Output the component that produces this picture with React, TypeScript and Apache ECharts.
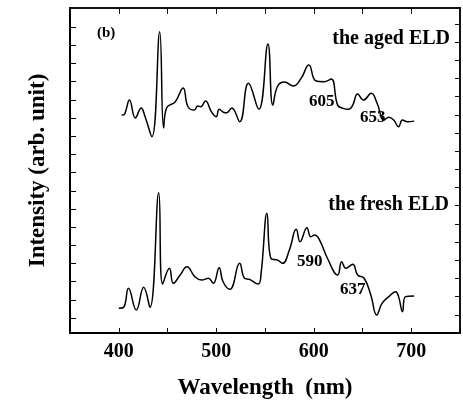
import React, { useEffect, useRef } from "react";
import * as echarts from "echarts";

// Wavelength (nm) / intensity (arb. unit)
const agedX = [403, 406, 411, 417, 423, 427, 434, 442, 446, 449, 458, 466, 471, 477.5, 481, 484, 489, 495, 500, 503, 509, 512, 516, 524, 533, 543.6, 553, 558, 563, 570, 579, 587, 595, 602, 611, 618, 624.5, 630, 636, 640, 645, 651, 659, 665, 672, 677, 682, 687, 691, 696, 703];
const agedY = [11.98, 12.04, 12.81, 11.82, 12.37, 11.89, 10.79, 16.56, 11.27, 12.37, 12.72, 13.47, 12.44, 12.26, 12.48, 12.44, 12.75, 12.17, 11.89, 12.3, 12.11, 12.15, 12.37, 11.62, 13.73, 12.3, 15.89, 12.53, 13.58, 13.8, 13.58, 14.0, 14.73, 13.87, 13.82, 13.96, 12.53, 12.35, 12.3, 12.53, 13.14, 12.81, 13.18, 12.63, 11.71, 11.86, 11.71, 11.34, 11.71, 11.62, 11.65];

const freshX = [400, 405, 410, 418, 425.5, 432, 441, 445, 452, 456, 463, 470, 478, 485, 492, 497, 503, 507, 514, 524, 529, 534, 543, 546, 552, 556, 563, 568, 575, 582, 586, 593, 597, 601, 606, 614, 624.5, 628.6, 633, 640, 645, 651.7, 658.5, 664.6, 670, 677, 684, 687, 691, 694, 703];
const freshY = [1.36, 1.41, 2.46, 1.26, 2.51, 1.41, 7.71, 2.69, 3.56, 2.73, 3.19, 3.64, 3.1, 2.91, 3.01, 2.73, 3.59, 2.82, 2.4, 3.83, 3.01, 2.95, 2.69, 3.28, 6.58, 4.11, 4.01, 3.83, 4.56, 5.7, 5.02, 5.79, 5.29, 5.39, 5.11, 4.11, 3.19, 3.92, 3.56, 3.78, 3.19, 3.01, 2.09, 0.99, 1.63, 2.0, 2.27, 2.0, 1.17, 2.0, 2.03];

const xMin = 350;
const xMax = 750;
const xInterval = 50;
const yMin = 0;
const yMax = 17.87;
const yTicks = [0.82, 1.82, 2.82, 3.82, 4.82, 5.82, 6.82, 7.82, 8.82, 9.82, 10.82, 11.82, 12.82, 13.82, 14.82, 15.82, 16.82];

const seriesNames = ["the aged ELD", "the fresh ELD"];
const peakLabels = ["605", "653", "590", "637"];
const panelLabel = "(b)";
const xName = "Wavelength  (nm)";
const yName = "Intensity (arb. unit)";

const FONT = "Liberation Serif";

export default function App() {
  const ref = useRef<HTMLDivElement>(null);
  useEffect(() => {
    if (!ref.current) return;
    const chart = echarts.init(ref.current, undefined, { renderer: "svg" });
    const pair = (xs: number[], ys: number[]) => xs.map((x, i) => [x, ys[i]]);
    const mkLine = (color: string) => ({ show: true, onZero: false, lineStyle: { color, width: 2 } });
    const ttl = (text: string, pos: Record<string, number>, size: number) => ({
      text,
      ...pos,
      padding: 0,
      textStyle: { color: "#000", fontFamily: FONT, fontWeight: "bold", fontSize: size },
    });
    chart.setOption({
      animation: false,
      title: [
        ttl(panelLabel, { left: 97, top: 24 }, 15),
        ttl(seriesNames[0], { right: 13, top: 27 }, 20),
        ttl(seriesNames[1], { right: 14, top: 193 }, 20),
        ttl(peakLabels[0], { left: 309, top: 92 }, 17),
        ttl(peakLabels[1], { left: 360, top: 108 }, 17),
        ttl(peakLabels[2], { left: 297, top: 252 }, 17),
        ttl(peakLabels[3], { left: 340, top: 280 }, 17),
      ],
      grid: { left: 70, right: 3, top: 8, bottom: 72, show: true, borderColor: "#111", borderWidth: 2 },
      xAxis: [
        {
          type: "value",
          min: xMin,
          max: xMax,
          interval: xInterval,
          axisLine: mkLine("#000"),
          axisTick: { show: true, inside: true, length: 5 },
          splitLine: { show: false },
          axisLabel: {
            color: "#000",
            fontFamily: FONT,
            fontWeight: "bold",
            fontSize: 20,
            margin: 7,
            formatter: (v: number) => (v % 100 === 0 && v > xMin && v < xMax ? String(v) : ""),
          },
          name: xName,
          nameLocation: "middle",
          nameGap: 42,
          nameTextStyle: { color: "#000", fontFamily: FONT, fontWeight: "bold", fontSize: 23 },
        },
        {
          type: "value",
          position: "top",
          min: xMin,
          max: xMax,
          interval: xInterval,
          axisLine: mkLine("#111"),
          axisTick: { show: true, inside: true, length: 6 },
          axisLabel: { show: false },
          splitLine: { show: false },
        },
      ],
      yAxis: [
        {
          type: "value",
          min: yMin,
          max: yMax,
          axisLine: mkLine("#000"),
          axisTick: { show: true, inside: true, length: 6, customValues: yTicks },
          axisLabel: { show: false },
          splitLine: { show: false },
          name: yName,
          nameLocation: "middle",
          nameGap: 22,
          nameTextStyle: { color: "#000", fontFamily: FONT, fontWeight: "bold", fontSize: 23 },
        },
        {
          type: "value",
          position: "right",
          min: yMin,
          max: yMax,
          interval: 1,
          axisLine: mkLine("#111"),
          axisTick: { show: true, inside: true, length: 5 },
          axisLabel: { show: false },
          splitLine: { show: false },
        },
      ],
      series: [
        {
          name: seriesNames[0],
          type: "line",
          data: pair(agedX, agedY),
          showSymbol: false,
          smooth: 0.45,
          lineStyle: { color: "#000", width: 1.5 },
        },
        {
          name: seriesNames[1],
          type: "line",
          data: pair(freshX, freshY),
          showSymbol: false,
          smooth: 0.45,
          lineStyle: { color: "#000", width: 1.5 },
        },
      ],
    });
    return () => chart.dispose();
  }, []);
  return <div ref={ref} style={{ position: "fixed", left: 0, top: 0, width: 463, height: 405 }} />;
}
